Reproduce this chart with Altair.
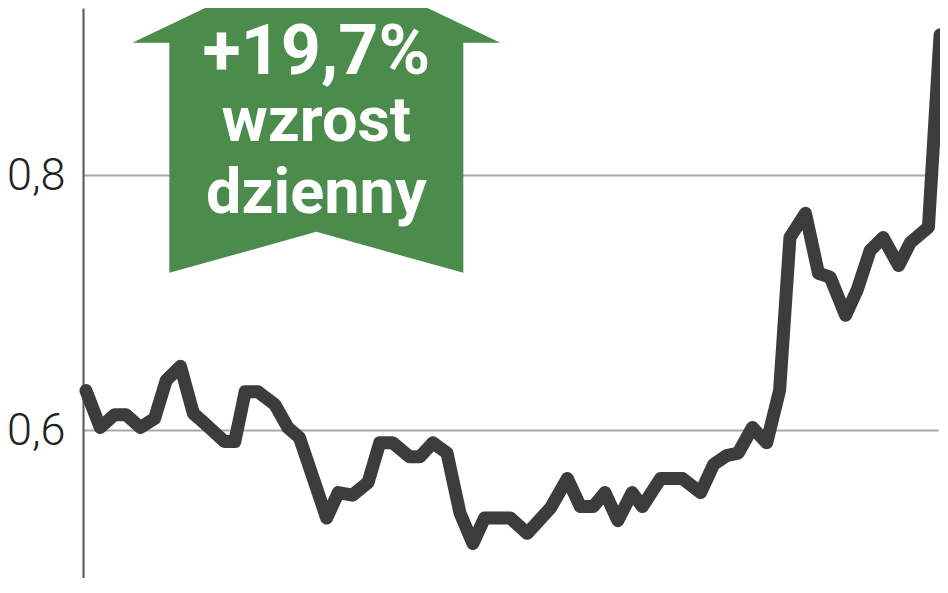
import altair as alt
import pandas as pd

# session index (trading days) and price readings
session = [0.0, 1.1, 2.2, 3.1, 4.2, 5.3, 6.2, 7.3, 8.3, 9.2, 10.7, 11.5, 12.3, 13.3,
           14.6, 15.6, 16.5, 18.6, 19.5, 20.6, 21.8, 22.7, 23.7, 25.0, 25.8, 26.8,
           27.9, 28.9, 29.9, 30.8, 32.8, 34.1, 35.9, 37.2, 38.2, 39.2, 40.1, 41.1,
           42.2, 43.0, 44.4, 46.1, 47.5, 48.5, 49.5, 50.4, 51.5, 52.6, 53.6, 54.4,
           55.6, 56.6, 57.5, 58.7, 59.6, 60.6, 61.6, 62.8, 63.7, 65.1, 66.0]
price = [0.631, 0.602, 0.612, 0.612, 0.602, 0.609, 0.639, 0.650, 0.613, 0.605,
         0.591, 0.591, 0.630, 0.630, 0.620, 0.602, 0.594, 0.531, 0.551, 0.549,
         0.559, 0.590, 0.590, 0.579, 0.579, 0.590, 0.582, 0.535, 0.511, 0.531,
         0.531, 0.519, 0.539, 0.562, 0.540, 0.540, 0.551, 0.529, 0.551, 0.540,
         0.562, 0.562, 0.551, 0.573, 0.580, 0.582, 0.602, 0.590, 0.631, 0.751,
         0.770, 0.723, 0.720, 0.690, 0.710, 0.741, 0.751, 0.729, 0.747, 0.759,
         0.910]

tick_values = [0.6, 0.8]

badge_lines = ["+19,7%", "wzrost", "dzienny"]
badge_line_v = [0.879, 0.827, 0.770]
badge_sizes = [70, 63, 63]
badge_t = 17.8
badge_center_v = 0.848

df = pd.DataFrame({"t": session, "v": price})
badge_df = pd.DataFrame({"t": [badge_t] * 3, "v": badge_line_v,
                         "label": badge_lines, "fs": badge_sizes})
arrow_df = pd.DataFrame({"t": [badge_t], "v": [badge_center_v]})

x_scale = alt.Scale(domain=[-0.23, 65.84], nice=False, zero=False)
y_scale = alt.Scale(domain=[0.484, 0.931], nice=False, zero=False)

y_axis = alt.Axis(
    values=tick_values, title=None, grid=True, gridColor="#a8a8a8",
    gridWidth=2, domain=True, domainColor="#555555", domainWidth=2,
    ticks=False, labelFont="Roboto", labelFontWeight=300, labelFontSize=45,
    labelColor="#222222", labelPadding=18,
    labelExpr="replace(format(datum.value, '.1f'), '.', ',')")

X = alt.X("t:Q", scale=x_scale, axis=None)
Y = alt.Y("v:Q", scale=y_scale, axis=y_axis)

line = alt.Chart(df).mark_line(
    color="#3c3c3c", strokeWidth=13, strokeJoin="round", strokeCap="round"
).encode(x=X, y=Y)

arrow_path = ("M0,-0.795 L0.92,-0.355 L0.735,-0.355 L0.735,0.795 L0,0.59 "
              "L-0.735,0.795 L-0.735,-0.355 L-0.92,-0.355 Z")

arrow = alt.Chart(arrow_df).mark_point(
    shape=arrow_path, size=160000, filled=True, color="#4b8b4b",
    opacity=1, strokeWidth=0
).encode(x=X, y=Y)

badge_text = alt.Chart(badge_df).mark_text(
    font="Roboto", fontWeight="bold", color="white", align="center",
    baseline="alphabetic"
).encode(
    x=X, y=Y,
    text="label:N",
    size=alt.Size("fs:Q", scale=None, legend=None),
)

chart = alt.layer(line, arrow, badge_text).properties(
    width=855, height=570,
    padding={"left": 75, "top": 0, "right": 2, "bottom": 0},
    autosize=alt.AutoSizeParams(type="none"),
    background="white",
).configure_view(stroke=None)

chart.save("out.html", embed_options={"renderer": "svg", "actions": False})
